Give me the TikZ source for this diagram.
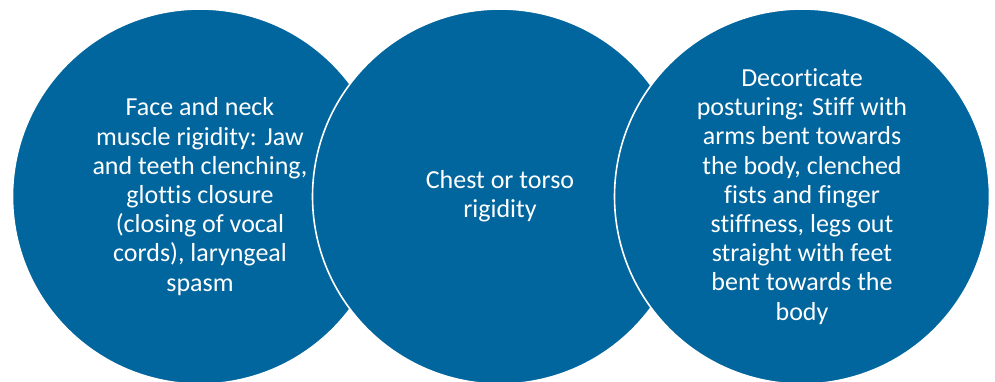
\documentclass[tikz,border=0pt]{standalone}
\usepackage{fontspec}
\setmainfont{Carlito}[Ligatures=NoCommon]
\definecolor{discblue}{RGB}{1,101,158}
\begin{document}
\begin{tikzpicture}[x=1pt,y=-1pt,
  disc/.style={circle, fill=discblue, draw=white, line width=1.6pt,
    minimum size=375pt, inner sep=0pt},
  disctext/.style={text=white, align=center, font=\fontsize{26}{29.2}\selectfont}]
  \useasboundingbox (0,0) rectangle (995,381);
  \node[disc] (c1) at (200,196.5) {};
  \node[disc] (c2) at (500,196.5) {};
  \node[disc] (c3) at (802,196.5) {};
  \node[disctext] (t1) at (c1) {Face and neck\\muscle rigidity: Jaw\\and teeth clenching,\\glottis closure\\(closing of vocal\\cords), laryngeal\\spasm};
  \node[disctext] (t2) at (c2) {Chest or torso\\rigidity};
  \node[disctext] (t3) at (c3) {Decorticate\\posturing: Stiff with\\arms bent towards\\the body, clenched\\fists and finger\\stiffness, legs out\\straight with feet\\bent towards the\\body};
\end{tikzpicture}
\end{document}
